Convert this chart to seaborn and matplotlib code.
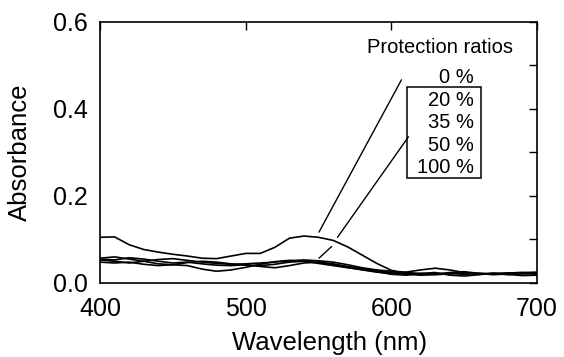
import numpy as np
import pandas as pd
import seaborn as sns
import matplotlib
matplotlib.use("Agg")
import matplotlib.pyplot as plt
from matplotlib.patches import Rectangle

wavelength = list(range(400, 701, 10))

abs_0 = [0.105, 0.106, 0.088, 0.077, 0.071, 0.066, 0.062, 0.057, 0.056, 0.062,
         0.068, 0.068, 0.082, 0.103, 0.108, 0.105, 0.098, 0.083, 0.064, 0.045,
         0.029, 0.022, 0.020, 0.022, 0.022, 0.020, 0.022, 0.021, 0.023, 0.024, 0.022]
abs_20 = [0.057, 0.060, 0.055, 0.050, 0.054, 0.056, 0.052, 0.048, 0.045, 0.043,
          0.044, 0.046, 0.048, 0.051, 0.053, 0.051, 0.048, 0.042, 0.035, 0.030,
          0.027, 0.025, 0.030, 0.034, 0.030, 0.024, 0.022, 0.021, 0.023, 0.024, 0.025]
abs_35 = [0.053, 0.050, 0.046, 0.050, 0.044, 0.042, 0.047, 0.050, 0.048, 0.044,
          0.041, 0.040, 0.043, 0.048, 0.050, 0.047, 0.043, 0.036, 0.030, 0.025,
          0.022, 0.024, 0.022, 0.020, 0.024, 0.026, 0.022, 0.019, 0.021, 0.022, 0.020]
abs_50 = [0.048, 0.046, 0.048, 0.043, 0.040, 0.042, 0.040, 0.032, 0.027, 0.030,
          0.036, 0.043, 0.049, 0.052, 0.050, 0.045, 0.040, 0.035, 0.031, 0.026,
          0.020, 0.018, 0.022, 0.024, 0.018, 0.016, 0.019, 0.023, 0.020, 0.017, 0.018]
abs_100 = [0.055, 0.053, 0.058, 0.055, 0.050, 0.046, 0.048, 0.044, 0.041, 0.040,
           0.042, 0.038, 0.035, 0.040, 0.046, 0.048, 0.044, 0.038, 0.033, 0.028,
           0.024, 0.020, 0.018, 0.019, 0.021, 0.023, 0.020, 0.022, 0.019, 0.021, 0.023]

ratios = ["0 %", "20 %", "35 %", "50 %", "100 %"]
series = [abs_0, abs_20, abs_35, abs_50, abs_100]

x_ticks = [400, 500, 600, 700]
y_ticks = [0.0, 0.2, 0.4, 0.6]
y_tick_labels = ["0.0", "0.2", "0.4", "0.6"]

df = pd.DataFrame({
    "Wavelength": wavelength * len(ratios),
    "Absorbance": sum(series, []),
    "Ratio": [r for r in ratios for _ in wavelength],
})

sns.set_theme(style="white")
plt.rcParams["font.family"] = ["Liberation Sans", "DejaVu Sans"]

fig = plt.figure(figsize=(5.64, 3.57), dpi=100)
ax = fig.add_axes([0.1773, 0.2073, 0.775, 0.7311])

sns.lineplot(data=df, x="Wavelength", y="Absorbance", hue="Ratio",
             palette=["black"] * len(ratios), linewidth=1.2, legend=False, ax=ax)

ax.set_xlim(400, 700)
ax.set_ylim(0, 0.6)
ax.set_xticks(x_ticks)
ax.set_yticks(y_ticks)
ax.set_yticklabels(y_tick_labels)
ax.set_yticks([0.1, 0.3, 0.5], minor=True)
ax.tick_params(axis="both", which="both", direction="in", top=True, right=True,
               color="black", labelsize=18, labelcolor="black")
ax.tick_params(axis="both", which="major", length=6, width=1)
ax.tick_params(axis="both", which="minor", length=6, width=1)
ax.tick_params(axis="y", pad=9)
ax.tick_params(axis="x", pad=10)
for s in ax.spines.values():
    s.set_visible(True)
    s.set_color("black")
    s.set_linewidth(1.2)

ax.set_xlabel("Wavelength (nm)", fontsize=18.5, color="black")
ax.set_ylabel("Absorbance", fontsize=18.5, color="black")
ax.xaxis.set_label_coords(0.525, -0.185)
ax.yaxis.set_label_coords(-0.155, 0.5)

# Annotation text and box
ax.text(0.779, 0.904, "Protection ratios", transform=ax.transAxes,
        ha="center", va="center", fontsize=14.5, color="black")
label_y = [0.789, 0.701, 0.613, 0.525, 0.444]
for lab, yy in zip(ratios, label_y):
    ax.text(0.856, yy, lab, transform=ax.transAxes, ha="right", va="center",
            fontsize=14.5, color="black")
ax.add_patch(Rectangle((0.7025, 0.402), 0.1695, 0.349, transform=ax.transAxes,
                       fill=False, edgecolor="black", linewidth=1.1))

# Leader lines
ax.plot([606.9, 550.3], [0.467, 0.117], color="black", lw=1.0)
ax.plot([611.7, 563.0], [0.336, 0.105], color="black", lw=1.0)
ax.plot([559.0, 550.3], [0.084, 0.057], color="black", lw=1.0)

fig.savefig("out.png", dpi=100)
